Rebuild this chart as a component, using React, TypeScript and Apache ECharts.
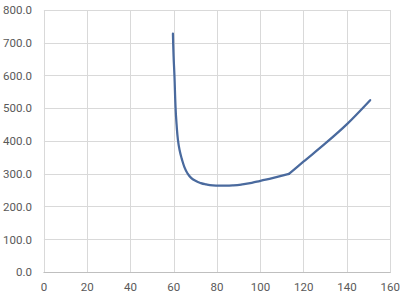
import React, { useEffect, useRef } from "react";
import * as echarts from "echarts";

const xValues = [59.6, 59.9, 60.3, 60.8, 61.3, 61.9, 62.7, 63.7, 64.9, 66.3, 68, 70, 72.5, 75, 78, 81, 84, 87.5, 91.5, 96, 100, 106, 113.2, 120, 130, 140, 150.7];
const yValues = [728, 660, 600, 505, 450, 405, 372, 346, 321, 302, 288, 279, 272, 268, 265, 264, 264, 265, 268, 273, 279, 288, 300, 338, 393, 452, 525];
const kinkX = 113.2;

const xTicks = { min: 0, max: 160, interval: 20 };
const yTicks = { min: 0, max: 800, interval: 100 };

export default function App() {
  const ref = useRef<HTMLDivElement>(null);
  useEffect(() => {
    if (!ref.current) return;
    const chart = echarts.init(ref.current, null, { renderer: "svg" });
    const data = xValues.map((x, i) => [x, yValues[i]]);
    const head = data.filter((d) => d[0] <= kinkX);
    const tail = data.filter((d) => d[0] >= kinkX);
    const labelStyle = { color: "#595959", fontSize: 11.5, fontFamily: "Roboto" };
    const lineStyle = { color: "#4a6a9e", width: 2.25, cap: "round" as const };
    chart.setOption({
      animation: false,
      backgroundColor: "#ffffff",
      grid: { left: 40.7, right: 15.7, top: 10, bottom: 27.7, containLabel: false },
      xAxis: {
        type: "value",
        min: xTicks.min,
        max: xTicks.max,
        interval: xTicks.interval,
        axisLine: { show: true, onZero: false, lineStyle: { color: "#bfbfbf", width: 1 } },
        axisTick: { show: false },
        axisLabel: { ...labelStyle, margin: 9 },
        splitLine: { show: true, lineStyle: { color: "#d9d9d9", width: 1 } },
      },
      yAxis: {
        type: "value",
        min: yTicks.min,
        max: yTicks.max,
        interval: yTicks.interval,
        axisLine: { show: false },
        axisTick: { show: false },
        axisLabel: { ...labelStyle, margin: 12, formatter: (v: number) => v.toFixed(1) },
        splitLine: { show: true, lineStyle: { color: "#d9d9d9", width: 1 } },
      },
      series: [
        { type: "line", data: head, showSymbol: false, smooth: 0.5, lineStyle },
        { type: "line", data: tail, showSymbol: false, smooth: 0.3, lineStyle },
      ],
    });
    return () => chart.dispose();
  }, []);
  return <div ref={ref} style={{ position: "fixed", left: 0, top: 0, width: 406, height: 300 }} />;
}
